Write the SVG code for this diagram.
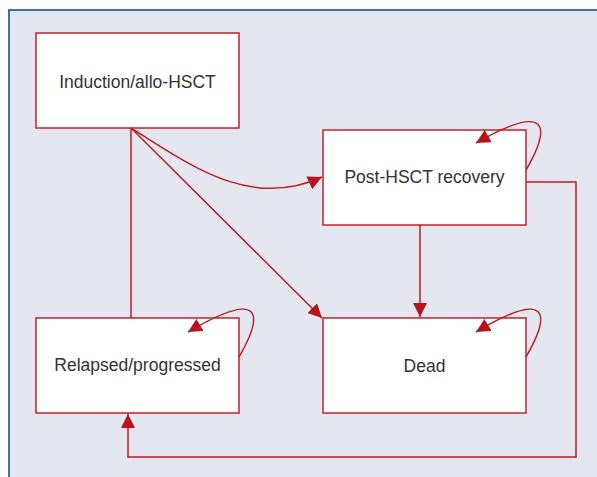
<svg xmlns="http://www.w3.org/2000/svg" width="597" height="477" viewBox="0 0 597 477">
<defs>
<style>
.node rect{fill:#ffffff;stroke:#c0222b;stroke-width:1.5}
.node text{font-family:"Liberation Sans",Arial,sans-serif;font-size:17.5px;fill:#333333;text-anchor:middle}
.conn path{fill:none;stroke:#be1e26;stroke-width:1.5}
</style>
<marker id="arr" markerWidth="15" markerHeight="14" refX="14" refY="7" orient="auto" markerUnits="userSpaceOnUse">
<path d="M0,0 L14,7 L0,14 Z" fill="#b8141d"/>
</marker>
</defs>
<rect x="0" y="0" width="597" height="477" fill="#ffffff"/>
<rect x="9" y="10" width="600" height="480" fill="#e4e7ef" stroke="#3b73a4" stroke-width="2"/>
<g id="induction" class="node">
<rect x="36" y="33" width="203" height="95"/>
<text x="137.5" y="88">Induction/allo-HSCT</text>
</g>
<g id="recovery" class="node">
<rect x="323" y="130" width="203" height="95"/>
<text x="424.5" y="183">Post-HSCT recovery</text>
</g>
<g id="relapsed" class="node">
<rect x="36" y="318" width="203" height="95"/>
<text x="137.5" y="371">Relapsed/progressed</text>
</g>
<g id="dead" class="node">
<rect x="323" y="318" width="203" height="95"/>
<text x="424.5" y="372">Dead</text>
</g>
<g id="connectors" class="conn">
<path d="M131,128 L131,318"/>
<path d="M131,128 C190,165 250,210 322,177" marker-end="url(#arr)"/>
<path d="M131,128 L322,318" marker-end="url(#arr)"/>
<path d="M420,225 L420,317" marker-end="url(#arr)"/>
<path d="M526,182 L576,182 L576,457 L128,457 L128,414" marker-end="url(#arr)"/>
<path d="M526,170 C552,125 548,102 476,143" marker-end="url(#arr)"/>
<path d="M239,357 C265,312 261,289 188,332" marker-end="url(#arr)"/>
<path d="M526,357 C552,312 548,289 476,332" marker-end="url(#arr)"/>
</g>
</svg>
